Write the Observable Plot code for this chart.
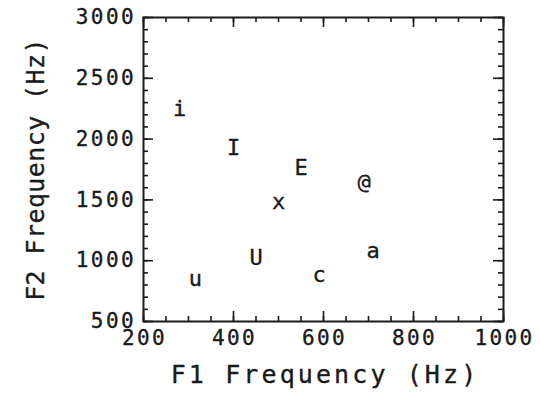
<!DOCTYPE html>
<html>
<head>
<meta charset="utf-8">
<script src="https://cdn.jsdelivr.net/npm/d3@7"></script>
<script src="https://cdn.jsdelivr.net/npm/@observablehq/plot@0.6"></script>
<style>
  html, body { margin: 0; padding: 0; background: #fff; }
  #chart svg { display: block; }
</style>
</head>
<body>
<div id="chart"></div>
<script>
// Vowel formant space: first formant (F1) against second formant (F2)
const vowels = ["i", "I", "E", "@", "x", "a", "c", "U", "u"];
const f1 = [280, 400, 550, 690, 500, 710, 590, 450, 315];
const f2 = [2250, 1930, 1760, 1650, 1480, 1080, 880, 1020, 850];

const xDomain = [200, 1000];
const yDomain = [500, 3000];
const xMajorTicks = [200, 400, 600, 800, 1000];
const yMajorTicks = [500, 1000, 1500, 2000, 2500, 3000];
const xMinorTicks = d3.range(200, 1001, 50);
const yMinorTicks = d3.range(500, 3001, 100);

const xTitle = "F1 Frequency (Hz)";
const yTitle = "F2 Frequency (Hz)";

const points = vowels.map((v, i) => ({vowel: v, f1: f1[i], f2: f2[i]}));

const W = 540, H = 397;
const margin = {top: 17, right: 37, bottom: 76, left: 143};
const frameW = W - margin.left - margin.right;
const frameH = H - margin.top - margin.bottom;
const ink = "#1a1a1a";
const font = "'DejaVu Sans Mono', monospace";
const major = 10, minor = 5;
const tickStyle = {stroke: ink, strokeWidth: 1.6};
const textStyle = {fill: ink, stroke: ink, strokeWidth: 0.35};

const plot = Plot.plot({
  width: W,
  height: H,
  marginTop: margin.top,
  marginRight: margin.right,
  marginBottom: margin.bottom,
  marginLeft: margin.left,
  x: {domain: xDomain, axis: null},
  y: {domain: yDomain, axis: null},
  style: {fontFamily: font, color: ink, background: "#fff"},
  marks: [
    // inward ticks on all four sides
    Plot.tickX(xMinorTicks, {x: d => d, ...tickStyle, insetTop: frameH - minor}),
    Plot.tickX(xMinorTicks, {x: d => d, ...tickStyle, insetBottom: frameH - minor}),
    Plot.tickX(xMajorTicks, {x: d => d, ...tickStyle, insetTop: frameH - major}),
    Plot.tickX(xMajorTicks, {x: d => d, ...tickStyle, insetBottom: frameH - major}),
    Plot.tickY(yMinorTicks, {y: d => d, ...tickStyle, insetRight: frameW - minor}),
    Plot.tickY(yMinorTicks, {y: d => d, ...tickStyle, insetLeft: frameW - minor}),
    Plot.tickY(yMajorTicks, {y: d => d, ...tickStyle, insetRight: frameW - major}),
    Plot.tickY(yMajorTicks, {y: d => d, ...tickStyle, insetLeft: frameW - major}),
    Plot.frame({stroke: ink, strokeWidth: 2}),
    // tick labels
    Plot.text(xMajorTicks, {x: d => d, text: d => String(d), frameAnchor: "bottom", lineAnchor: "middle",
      dy: 17, dx: 1, fontSize: 21, ...textStyle}),
    Plot.text(yMajorTicks, {y: d => d, text: d => String(d), frameAnchor: "left", textAnchor: "end",
      lineAnchor: "middle", dx: -7.5, fontSize: 21, ...textStyle}),
    // axis titles
    Plot.text([xTitle], {text: d => d, frameAnchor: "bottom", lineAnchor: "middle", dy: 53, dx: 1.5,
      fontSize: 25, ...textStyle}),
    Plot.text([yTitle], {text: d => d, frameAnchor: "left", textAnchor: "middle", lineAnchor: "middle",
      dx: -108, rotate: -90, fontSize: 25, ...textStyle}),
    // vowel symbols at their formant positions
    Plot.text(points, {x: "f1", y: "f2", text: "vowel", fontSize: 22, ...textStyle})
  ]
});

// wider letter spacing for the axis labels and titles
const tickStrings = new Set([...xMajorTicks, ...yMajorTicks].map(String));
d3.select(plot).selectAll("text").each(function() {
  const t = this.textContent;
  if (tickStrings.has(t)) this.style.letterSpacing = "2.4px";
  else if (t === xTitle) this.style.letterSpacing = "3.1px";
  else if (t === yTitle) this.style.letterSpacing = "0.4px";
});

document.getElementById("chart").appendChild(plot);
</script>
</body>
</html>
